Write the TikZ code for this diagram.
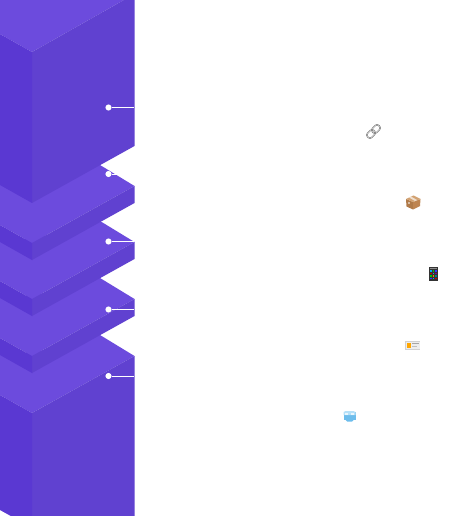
\documentclass[tikz,border=0pt]{standalone}
\definecolor{facetop}{HTML}{6C4BDD}
\definecolor{faceright}{HTML}{6041D0}
\definecolor{faceleft}{HTML}{5A38D2}
\definecolor{boxleft}{HTML}{B07A48}
\definecolor{boxright}{HTML}{BE8450}
\definecolor{boxlid}{HTML}{D2A272}
\definecolor{icedark}{HTML}{6DBDEC}
\definecolor{icelight}{HTML}{B5E0F8}
\tikzset{
  topface/.style={fill=facetop},
  rightface/.style={fill=faceright},
  leftface/.style={fill=faceleft},
  leader/.style={draw=white,line width=0.6pt},
  leaderdot/.style={circle,fill=white,inner sep=0pt,minimum size=4.6pt},
}
\begin{document}
\begin{tikzpicture}[x=0.75pt,y=-0.75pt]
    \useasboundingbox (0,0) rectangle (452,516);
    \begin{scope}
    \clip (0,0) rectangle (452,516);
    % bottom block
    \fill[topface] (32,413) -- (134.5,356) -- (100,335) -- (32,353) -- (0,353) -- (0,395) -- cycle;
    \fill[rightface] (32,413) -- (134.5,356) -- (134.5,520) -- (32,520) -- cycle;
    \fill[leftface] (0,395) -- (32,413) -- (32,520) -- (18,520) -- (0,510) -- cycle;
    % thin slabs
    \foreach \a in {356,299,243} {
        \fill[topface] (32,\a) -- (134.5,\a-57) -- (100,\a-78) -- (32,\a-60) -- (0,\a-60) -- (0,\a-18) -- cycle;
        \fill[rightface] (32,\a) -- (134.5,\a-57) -- (134.5,\a-40) -- (32,\a+17) -- cycle;
        \fill[leftface] (0,\a-18) -- (32,\a) -- (32,\a+17) -- (0,\a-1) -- cycle;
    }
    % top block
    \fill[topface] (0,34) -- (32,52) -- (134.5,-6) -- (134.5,-20) -- (0,-20) -- cycle;
    \fill[rightface] (32,52) -- (134.5,-6) -- (134.5,146) -- (32,203) -- cycle;
    \fill[leftface] (0,34) -- (32,52) -- (32,203) -- (0,185) -- cycle;
    \end{scope}
    % leaders
    \foreach \name/\y in {one/107.5,two/174,three/241.5,four/309.5,five/376} {
        \node[leaderdot] (dot\name) at (108.5,\y) {};
        \coordinate (end\name) at (134,\y);
        \draw[leader] (dot\name) -- (end\name);
    }
    % link
    \begin{scope}[shift={(373.5,131.5)},rotate=45]
        \draw[draw=black!60,line width=1pt,rounded corners=2pt] (-8,-3) rectangle (1,3);
        \draw[draw=black!12,line width=0.35pt,rounded corners=2pt] (-8,-3) rectangle (1,3);
        \draw[draw=black!60,line width=1pt,rounded corners=2pt] (-1,-3) rectangle (8,3);
        \draw[draw=black!12,line width=0.35pt,rounded corners=2pt] (-1,-3) rectangle (8,3);
    \end{scope}
    % box
    \fill[boxleft] (406,199) -- (413,202) -- (413,209.5) -- (406.5,206.5) -- cycle;
    \fill[boxright] (413,202) -- (420.5,199) -- (420,206) -- (413,209.5) -- cycle;
    \fill[boxlid] (406,199) -- (413.5,195.5) -- (420.5,199) -- (413,202) -- cycle;
    \fill[white!65!boxlid] (409,197.5) -- (411,196.5) -- (417,200) -- (415,201) -- cycle;
    \fill[white!50!boxleft] (407.5,202) rectangle (410,204);
    % phone
    \fill[black!80] (428.5,267) rectangle (437.5,281);
    \fill[black!45] (429.5,268) rectangle (436.5,269);
    \foreach \px/\py/\pc in {430/270/cyan,432.5/270/green!80!black,435/270/blue!80!white,430/272.5/red!80!black,432.5/272.5/cyan,435/272.5/violet,430/275/green!80!black,432.5/275/orange,435/275/teal,430/277.5/blue!80!white,432.5/277.5/cyan,435/277.5/red!80!black} {
        \fill[\pc] (\px,\py) rectangle +(1.7,1.7);
    }
    % card
    \fill[black!18] (405,340.5) rectangle (420,349.5);
    \fill[black!7] (405.5,341.5) rectangle (419.5,348.5);
    \fill[orange!70!yellow] (407,343) rectangle (410.5,347.5);
    \fill[black!35] (412,343) rectangle (418.5,344);
    \fill[black!25] (412,345.5) rectangle (417,346.5);
    % cube
    \fill[icedark] (343.5,412) rectangle (355.5,420);
    \fill[icelight] (343.5,412) -- (345.5,411) -- (353.5,411) -- (355.5,412) -- (355.5,415) -- (343.5,415) -- cycle;
    \fill[white!70!icelight] (345,413) rectangle (348,415);
    \fill[white!70!icelight] (351,413) rectangle (354,415);
    \fill[icedark] (345.5,420) -- (353.5,420) -- (352,421.5) -- (347,421.5) -- cycle;
\end{tikzpicture}
\end{document}
